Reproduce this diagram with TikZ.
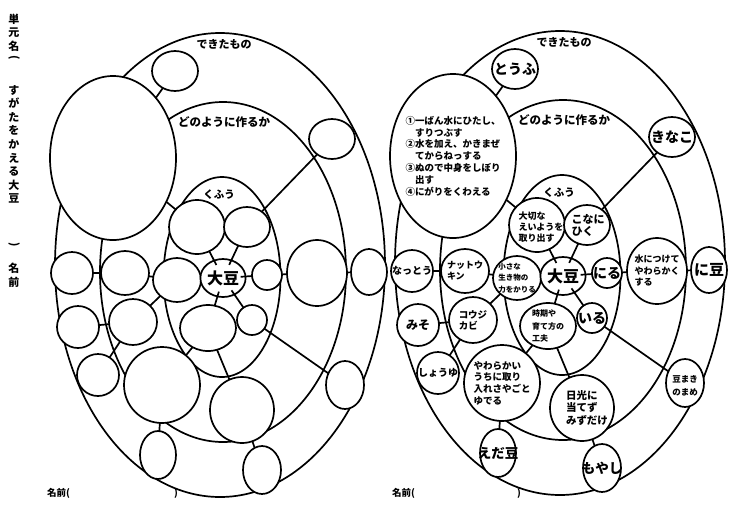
\documentclass[tikz,border=0pt]{standalone}
\usepackage{fontspec}
\setmainfont{Noto Sans CJK JP}
\usetikzlibrary{shapes.geometric}
\newcommand\fsz[2]{\fontsize{#1}{#2}\selectfont}
\newcommand\panelbody{%
  % rings
  \node[ring, dia={330}{464}] (outer) at (220,265) {};
  \node[ring, dia={246}{340}] (middle) at (223,272) {};
  \node[ring, dia={117}{200}] (inner) at (222,277) {};
  % titles
  \node[ttl, font=\bfseries\fsz{11}{11}] (tDekita) at (224,44) {できたもの};
  \node[ttl, font=\bfseries\fsz{11.5}{11.5}] (tDono) at (224,122) {どのように作るか};
  \node[ttl, font=\bfseries\fsz{10.5}{10.5}] (tKufu) at (219,195) {くふう};
  % bubbles
  \node[bub, dia={46}{40}] (c1) at (175,71) {};
  \node[bub, dia={126}{164}] (c2) at (113,158) {};
  \node[bub, dia={46}{40}] (c3) at (332,139) {};
  \node[bub, dia={56}{54}] (c4) at (197,227) {};
  \node[bub, dia={46}{40}] (c5) at (247,227) {};
  \node[bub, dia={42}{42}] (c6) at (72,273) {};
  \node[bub, dia={48}{44}] (c7) at (125,273) {};
  \node[bub, dia={48}{44}] (c8) at (177,280) {};
  \node[bub, dia={40}{38}, font=\bfseries\fsz{16}{16}] (daizu) at (223,278) {大豆};
  \node[bub, dia={30}{30}] (c10) at (267,275) {};
  \node[bub, dia={60}{66}] (c11) at (317,273) {};
  \node[bub, dia={36}{46}] (c12) at (369,272) {};
  \node[bub, dia={42}{42}] (c13) at (78,327) {};
  \node[bub, dia={48}{46}] (c14) at (133,322) {};
  \node[bub, dia={56}{46}] (c15) at (208,328) {};
  \node[bub, dia={30}{30}] (c16) at (252,320) {};
  \node[bub, dia={42}{42}] (c17) at (98,375) {};
  \node[bub, dia={76}{76}] (c18) at (162,385) {};
  \node[bub, dia={64}{66}] (c19) at (242,410) {};
  \node[bub, dia={38}{48}] (c20) at (345,385) {};
  \node[bub, dia={36}{48}] (c21) at (158,455) {};
  \node[bub, dia={38}{48}] (c22) at (262,470) {};
  % connectors
  \draw[link] (c1) -- (c2);
  \draw[link] (c2) -- (c4);
  \draw[link] (c3) -- (c5);
  \draw[link] (c6) -- (c7);
  \draw[link] (c7) -- (c8);
  \draw[link] (c8) -- (c14);
  \draw[link] (c13) -- (c14);
  \draw[link] (c14) -- (c17);
  \draw[link] (c10) -- (c11);
  \draw[link] (c11) -- (c12);
  \draw[link] (c15) -- (c18);
  \draw[link] (c15) -- (c19);
  \draw[link] (c18) -- (c21);
  \draw[link] (c19) -- (c22);
  \draw[link] (c16) -- (c20);
  \draw[link, shorten <=-5pt] (daizu) -- (c4);
  \draw[link, shorten <=-5pt] (daizu) -- (c5);
  \draw[link, shorten <=-5pt] (daizu) -- (c10);
  \draw[link, shorten <=-5pt] (daizu) -- (c15);
  \draw[link, shorten <=-5pt] (daizu) -- (c16);
}
\begin{document}
\begin{tikzpicture}[x=1pt, y=-1pt,
  ring/.style={draw, ellipse, line width=1.7pt, inner sep=0pt, outer sep=0pt},
  bub/.style={draw, ellipse, fill=white, line width=1.7pt, inner sep=0pt, outer sep=0pt},
  dia/.style 2 args={minimum width=#1pt, minimum height=#2pt},
  link/.style={line width=1.7pt},
  ttl/.style={inner sep=0pt},
  t/.style={inner sep=0pt, align=left},
  vt/.style={inner sep=0pt, align=center, font=\bfseries\fsz{11}{13.6}},
  nm/.style={inner sep=0pt, font=\bfseries\fsz{9.5}{9.5}}]
\useasboundingbox (0,0) rectangle (738,507);
\fill[white] (0,0) rectangle (738,507);
% side title
\node[vt] (side1) at (14,32.6) {単\\元\\名};
\node[vt, rotate=-90] (side1p) at (14,58) {(};
\node[vt] (side2) at (14,144.4) {す\\が\\た\\を\\か\\え\\る\\大\\豆};
\node[vt, rotate=-90] (side3) at (14,245) {)};
\node[vt] (side4) at (14,275) {名\\前};
% panels
\begin{scope}[name prefix=L-]
  \panelbody
\end{scope}
\begin{scope}[shift={(340,-2)}, name prefix=R-]
  \panelbody
\end{scope}
% right panel texts
\node[t, font=\bfseries\fsz{14}{14}] (tTofu) at (R-c1) {とうふ};
\node[t, font=\bfseries\fsz{9.5}{11.8}] (tProc) at (R-c2) {①一ばん水にひたし、\\　すりつぶす\\②水を加え、かきまぜ\\　てからねっする\\③ぬので中身をしぼり\\　出す\\④にがりをくわえる};
\node[t, font=\bfseries\fsz{14}{14}] (tKinako) at (R-c3) {きなこ};
\node[t, font=\bfseries\fsz{9}{11}] (tTaisetsu) at ([xshift=4pt, yshift=-2pt]R-c4) {大切な\\えいようを\\取り出す};
\node[t, font=\bfseries\fsz{11}{12}] (tKona) at ([xshift=1pt]R-c5) {こなに\\ひく};
\node[t, font=\bfseries\fsz{10}{10}] (tNatto) at (R-c6) {なっとう};
\node[t, font=\bfseries\fsz{9}{11}] (tNattokin) at (R-c7) {ナットウ\\キン};
\node[t, font=\bfseries\fsz{7.5}{11.5}] (tChiisana) at (R-c8) {小さな\\生き物の\\力をかりる};
\node[t, font=\bfseries\fsz{14}{14}] (tNiru) at (R-c10) {にる};
\node[t, font=\bfseries\fsz{9}{11.5}] (tMizu) at (R-c11) {水につけて\\やわらかく\\する};
\node[t, font=\bfseries\fsz{15}{15}] (tNimame) at (R-c12) {に豆};
\node[t, font=\bfseries\fsz{12}{12}] (tMiso) at (R-c13) {みそ};
\node[t, font=\bfseries\fsz{9.5}{11}] (tKouji) at (R-c14) {コウジ\\カビ};
\node[t, font=\bfseries\fsz{8}{12.5}] (tJiki) at (R-c15) {時期や\\育て方の\\工夫};
\node[t, font=\bfseries\fsz{14}{14}] (tIru) at (R-c16) {いる};
\node[t, font=\bfseries\fsz{10}{10}] (tShoyu) at (R-c17) {しょうゆ};
\node[t, font=\bfseries\fsz{9.5}{11.7}] (tYawara) at (R-c18) {やわらかい\\うちに取り\\入れさやごと\\ゆでる};
\node[t, font=\bfseries\fsz{10.5}{12.5}] (tNikko) at ([xshift=5pt]R-c19) {日光に\\当てず\\みずだけ};
\node[t, font=\bfseries\fsz{8.5}{13}] (tMamemaki) at ([yshift=-3pt]R-c20) {豆まき\\のまめ};
\node[t, font=\bfseries\fsz{13.5}{13.5}] (tEdamame) at (R-c21) {えだ豆};
\node[t, font=\bfseries\fsz{13.5}{13.5}] (tMoyashi) at (R-c22) {もやし};
% name lines
\node[nm, anchor=west] (nameL) at (47,493) {名前(};
\node[nm] (nameLc) at (176,493) {)};
\node[nm, anchor=west] (nameR) at (392,493) {名前(};
\node[nm] (nameRc) at (519,493) {)};
\end{tikzpicture}
\end{document}
